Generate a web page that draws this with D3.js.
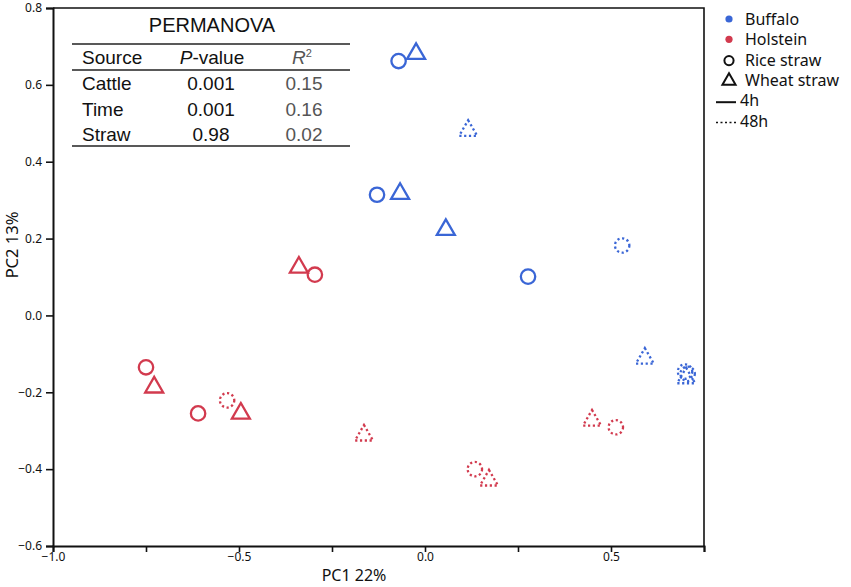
<!DOCTYPE html>
<meta charset="utf-8">
<script src="https://d3js.org/d3.v7.min.js"></script>
<style>
  body { margin: 0; background: #fff; }
  text { font-family: "Noto Sans", sans-serif; }
  .tbl text { font-family: "Liberation Sans", Arial, sans-serif; }
</style>
<div id="chart"></div>
<script>
// PCA scores
var cattle = ["Buffalo","Buffalo","Buffalo","Buffalo","Buffalo","Buffalo","Buffalo","Buffalo","Buffalo","Buffalo","Buffalo","Buffalo",
              "Holstein","Holstein","Holstein","Holstein","Holstein","Holstein","Holstein","Holstein","Holstein","Holstein","Holstein","Holstein"];
var straw  = ["Rice","Wheat","Wheat","Rice","Wheat","Wheat","Rice","Rice","Wheat","Rice","Rice","Wheat",
              "Wheat","Rice","Rice","Wheat","Rice","Rice","Wheat","Wheat","Wheat","Rice","Rice","Wheat"];
var time   = ["4h","4h","48h","4h","4h","4h","48h","4h","48h","48h","48h","48h",
              "4h","4h","4h","4h","4h","48h","4h","48h","48h","48h","48h","48h"];
var pc1 = [-0.071,-0.024,0.116,-0.129,-0.067,0.056,0.530,0.277,0.591,0.699,0.706,0.702,
           -0.339,-0.296,-0.750,-0.728,-0.610,-0.532,-0.495,-0.164,0.449,0.513,0.134,0.172];
var pc2 = [0.662,0.681,0.481,0.314,0.317,0.223,0.182,0.101,-0.112,-0.146,-0.152,-0.163,
           0.125,0.106,-0.135,-0.187,-0.255,-0.221,-0.255,-0.312,-0.273,-0.291,-0.400,-0.429];

var xTicks = [-1.0,-0.75,-0.5,-0.25,0.0,0.25,0.5,0.75];
var yTicks = [0.8,0.6,0.4,0.2,0.0,-0.2,-0.4,-0.6];

var tableSources = ["Cattle","Time","Straw"];
var tablePValues = ["0.001","0.001","0.98"];
var tableR2 = ["0.15","0.16","0.02"];

var legendItems = ["Buffalo","Holstein","Rice straw","Wheat straw","4h","48h"];

var colors = {Buffalo: "#3a66d6", Holstein: "#d23a4e"};

var width = 851, height = 587;
var svg = d3.select("#chart").append("svg")
    .attr("width", width)
    .attr("height", height);

var x = d3.scaleLinear().domain([-1.0, 0.75]).range([53, 704]);
var y = d3.scaleLinear().domain([-0.6, 0.8]).range([546, 8]);

// frame top & right
svg.append("path")
    .attr("d", "M" + x(-1) + "," + y(0.8) + "H" + x(0.75) + "V" + y(-0.6))
    .attr("fill", "none").attr("stroke", "#111").attr("stroke-width", 1.6);

var xAxis = svg.append("g")
    .attr("transform", "translate(0," + y(-0.6) + ")")
    .call(d3.axisBottom(x).tickValues(xTicks).tickSize(6).tickPadding(2)
        .tickFormat(function(d) { return Math.abs(d * 2 - Math.round(d * 2)) < 1e-9 ? d3.format(".1f")(d) : ""; }));
var yAxis = svg.append("g")
    .attr("transform", "translate(" + x(-1) + ",0)")
    .call(d3.axisLeft(y).tickValues(yTicks).tickSize(7).tickPadding(4).tickFormat(d3.format(".1f")));

[xAxis, yAxis].forEach(function(g) {
  g.select(".domain").attr("stroke", "#111").attr("stroke-width", 2);
  g.selectAll(".tick line").attr("stroke", "#111").attr("stroke-width", 1.6);
  g.selectAll(".tick text").attr("fill", "#111")
    .style("font-family", "'Noto Sans', sans-serif").style("font-size", "12px");
});
xAxis.selectAll(".tick text").attr("dy", "0.6em");

svg.append("text").attr("x", 354).attr("y", 581)
    .attr("text-anchor", "middle").style("font-size", "16px").attr("fill", "#111")
    .text("PC1 22%");
svg.append("text")
    .attr("transform", "translate(18,245) rotate(-90)")
    .attr("text-anchor", "middle").style("font-size", "16.5px").attr("fill", "#111")
    .text("PC2 13%");

// points
var tri = d3.symbol().type(d3.symbolTriangle).size(140);
var pts = svg.append("g");
d3.range(pc1.length).forEach(function(i) {
  var c = colors[cattle[i]];
  var m;
  if (straw[i] === "Rice") {
    m = pts.append("circle").attr("cx", x(pc1[i])).attr("cy", y(pc2[i])).attr("r", 7.2);
  } else {
    m = pts.append("path").attr("d", tri)
      .attr("transform", "translate(" + x(pc1[i]) + "," + y(pc2[i]) + ")");
  }
  m.attr("fill", "none").attr("stroke", c).attr("stroke-width", 2.3);
  if (time[i] === "48h") m.attr("stroke-dasharray", "2.2,2.6");
});

// PERMANOVA table
var tb = svg.append("g").attr("class", "tbl");
tb.append("text").attr("x", 212).attr("y", 32).attr("text-anchor", "middle")
    .style("font-size", "20px").attr("fill", "#111").text("PERMANOVA");
[44, 70, 146].forEach(function(ly) {
  tb.append("line").attr("x1", 72).attr("x2", 350).attr("y1", ly).attr("y2", ly)
    .attr("stroke", "#222").attr("stroke-width", 1.6);
});
var hdr = tb.append("g").style("font-size", "19px");
hdr.append("text").attr("x", 82).attr("y", 64).attr("fill", "#111").text("Source");
var pv = hdr.append("text").attr("x", 212).attr("y", 64).attr("text-anchor", "middle").attr("fill", "#111");
pv.append("tspan").style("font-style", "italic").text("P");
pv.append("tspan").text("-value");
var rh = hdr.append("text").attr("x", 302).attr("y", 64).attr("text-anchor", "middle").attr("fill", "#555");
rh.append("tspan").style("font-style", "italic").text("R");
rh.append("tspan").attr("dy", -7).style("font-size", "11px").text("2");
tableSources.forEach(function(s, i) {
  var by = 90 + i * 25.5;
  tb.append("text").attr("x", 82).attr("y", by).style("font-size", "19px").attr("fill", "#111").text(s);
  tb.append("text").attr("x", 211).attr("y", by).attr("text-anchor", "middle")
    .style("font-size", "19px").attr("fill", "#111").text(tablePValues[i]);
  tb.append("text").attr("x", 304).attr("y", by).attr("text-anchor", "middle")
    .style("font-size", "19px").attr("fill", "#555").text(tableR2[i]);
});

// legend
var lg = svg.append("g");
var lx = 729;
legendItems.forEach(function(name, i) {
  var cy = 19 + i * 20.3;
  var tx = i < 4 ? 745 : 740;
  if (i < 2) {
    lg.append("circle").attr("cx", lx).attr("cy", cy).attr("r", 3.6).attr("fill", colors[name]);
  } else if (i === 2) {
    lg.append("circle").attr("cx", lx).attr("cy", cy + 1).attr("r", 4.6)
      .attr("fill", "none").attr("stroke", "#111").attr("stroke-width", 2);
  } else if (i === 3) {
    lg.append("path").attr("d", d3.symbol().type(d3.symbolTriangle).size(75))
      .attr("transform", "translate(" + lx + "," + (cy + 1) + ")")
      .attr("fill", "none").attr("stroke", "#111").attr("stroke-width", 2);
  } else {
    var ln = lg.append("line").attr("x1", 716).attr("x2", 736).attr("y1", cy + 2).attr("y2", cy + 2)
      .attr("stroke", "#111").attr("stroke-width", 2);
    if (name === "48h") ln.attr("stroke-width", 1.6).attr("stroke-dasharray", "2,2.5");
  }
  lg.append("text").attr("x", tx).attr("y", cy + 6).style("font-size", "16px")
    .attr("fill", "#111").text(name);
});
</script>
